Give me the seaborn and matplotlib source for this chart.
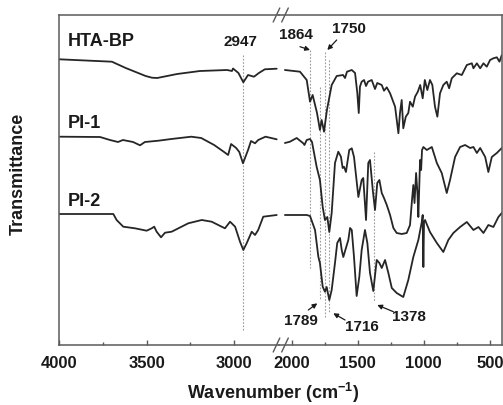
import matplotlib
matplotlib.use("Agg")
import matplotlib.pyplot as plt
import seaborn as sns
import pandas as pd
from matplotlib.lines import Line2D

sns.set_theme(style="white")
plt.rcParams["font.family"] = ["Liberation Sans", "DejaVu Sans"]
plt.rcParams["font.weight"] = "bold"
plt.rcParams["mathtext.fontset"] = "custom"
plt.rcParams["mathtext.rm"] = "Liberation Sans:bold"
plt.rcParams["mathtext.bf"] = "Liberation Sans:bold"
plt.rcParams["mathtext.default"] = "bf"

# ---------------- data (wavenumber cm-1, transmittance arbitrary units) ----------------
hta_wn = [4000, 3699, 3620, 3506, 3470, 3440, 3326, 3195, 3040, 3012, 3006, 2975, 2960, 2947, 2920, 2886, 2858, 2824, 2756,
          2051, 1937, 1886, 1861, 1841, 1808, 1786, 1773, 1755, 1733, 1697, 1659, 1611, 1596, 1581, 1545, 1520, 1503, 1492,
          1483, 1470, 1452, 1437, 1422, 1394, 1369, 1352, 1318, 1301, 1280, 1255, 1217, 1192, 1180, 1167, 1155, 1136, 1117,
          1104, 1083, 1066, 1045, 1027, 1008, 992, 973, 953, 935, 915, 897, 877, 852, 826, 808, 788, 750, 712, 674, 636, 624,
          598, 573, 548, 523, 498, 473, 447, 427, 409]
hta_t = [285.7, 283.3, 277, 269, 267.3, 267, 271, 274, 275, 274, 276.5, 272, 267, 262.7, 270, 268.3, 272, 275.7, 276.3,
         275, 273.3, 265, 243.3, 250, 232, 215, 225, 213.3, 235, 260, 269, 270, 267, 273.3, 275, 272, 252, 232,
         258.3, 263.3, 265, 259, 263.3, 265, 256, 262, 260, 254.3, 257.7, 251.7, 238.3, 211.7, 232, 245, 216.7, 228.3, 232,
         243.3, 238.3, 248.3, 253.3, 260, 246.7, 265, 255, 265, 260, 238.3, 228.3, 251.7, 260, 263.3, 256.7, 266.7, 271.7, 270, 280, 281.7, 276.7,
         281.7, 276.7, 281.7, 278.3, 285, 286.7, 287.7, 283.3, 290]

pi1_wn = [3996, 3767, 3710, 3664, 3636, 3578, 3538, 3510, 3433, 3359, 3245, 3188, 3114, 3057, 3034, 3017, 2988, 2970, 2949,
          2920, 2903, 2880, 2862, 2820, 2756,
          2051, 2013, 1962, 1912, 1903, 1886, 1861, 1846, 1811, 1786, 1765, 1748, 1730, 1715, 1697, 1672, 1647, 1627, 1614,
          1604, 1589, 1564, 1545, 1528, 1495, 1470, 1458, 1437, 1420, 1407, 1386, 1369, 1352, 1336, 1318, 1301, 1280, 1255,
          1230, 1205, 1167, 1129, 1104, 1089, 1079, 1070, 1058, 1047, 1041, 1028, 1020, 1013, 1003, 977, 939, 901, 864, 826,
          801, 763, 725, 687, 649, 624, 598, 573, 535, 511, 485, 447, 409]
pi1_t = [208.3, 208, 205, 203, 205, 203, 199.7, 203, 204.3, 206, 208.3, 207, 200, 193, 190, 201, 197, 193, 181.7,
         195, 204, 201.7, 205, 208.3, 205.7,
         202, 203.3, 207, 201.7, 200, 205, 206, 203, 178.3, 165, 138, 125, 128, 113, 132, 182, 193.3, 188.3, 177,
         178.3, 173, 195, 196.7, 188, 148, 165, 167, 125, 182, 185, 155, 135, 162, 165, 152, 147, 140, 130,
         117, 112, 111, 112, 120, 145, 160, 142, 172, 150, 128, 185, 175, 195, 198, 195, 198, 182, 172, 152,
         165, 188, 198, 200, 197, 198, 192, 197, 188, 173, 188, 192, 197]

pi2_wn = [4000, 3691, 3672, 3634, 3567, 3500, 3471, 3457, 3443, 3418, 3395, 3357, 3262, 3185, 3128, 3071, 3052, 3023, 2994,
          2966, 2947, 2928, 2899, 2880, 2862, 2833, 2756,
          2051, 1937, 1886, 1861, 1823, 1798, 1786, 1765, 1748, 1735, 1715, 1697, 1672, 1655, 1634, 1621, 1609, 1589, 1571,
          1558, 1545, 1528, 1508, 1488, 1470, 1445, 1427, 1407, 1382, 1356, 1336, 1318, 1293, 1268, 1242, 1205, 1155, 1117,
          1079, 1041, 1015, 1008, 1003, 998, 990, 953, 901, 852, 814, 776, 725, 674, 624, 586, 548, 511, 473, 435, 409]
pi2_t = [131, 131, 125, 118.3, 116.7, 114.3, 116.7, 118.3, 113.3, 107.7, 112.3, 113.3, 121.7, 125, 123.3, 118.3, 116.7, 123.3, 118.3,
         103.3, 95, 101.7, 113.3, 110, 115, 128.3, 130,
         130, 130, 130, 129, 115, 88.3, 82, 58.3, 53.3, 58, 45, 55, 82, 102, 107, 95, 88, 97, 105,
         117, 115, 88, 49, 68, 95, 115, 102, 72, 54, 85, 82, 77, 85, 72, 57, 52, 48, 65,
         88, 105, 123, 130, 78, 123, 125, 113, 102, 93, 105, 112, 118, 123, 115, 118, 112, 120, 118, 128, 132]

samples = ["HTA-BP", "PI-1", "PI-2"]
label_t = [303.3, 222, 143.3]

x_ticks_left = [4000, 3500, 3000]
x_ticks_right = [2000, 1500, 1000, 500]

frames = []
for name, wn, t in zip(samples, [hta_wn, pi1_wn, pi2_wn], [hta_t, pi1_t, pi2_t]):
    frames.append(pd.DataFrame({"sample": name, "wn": wn, "T": t}))
df = pd.concat(frames, ignore_index=True)
left_df = df[df["wn"] > 2400]
right_df = df[df["wn"] < 2400]

W, H = 503, 405
fig = plt.figure(figsize=(W / 100, H / 100), dpi=100)
ax1 = fig.add_axes([59.3 / W, 60 / H, 220.2 / W, 330 / H])
ax2 = fig.add_axes([279.5 / W, 60 / H, 222.2 / W, 330 / H])

line_col = "#262626"
spine_col = "#5a5a5a"
txt_col = "#1a1a1a"
for ax, sub in [(ax1, left_df), (ax2, right_df)]:
    sns.lineplot(data=sub, x="wn", y="T", hue="sample", units="sample", estimator=None, sort=False,
                 palette=[line_col] * 3, legend=False, linewidth=1.3, ax=ax)
    ax.set_ylim(0, 330)
    ax.set_yticks([])
    ax.set_xlabel("")
    ax.set_ylabel("")
    for s in ax.spines.values():
        s.set_color(spine_col)
        s.set_linewidth(1.1)
    ax.tick_params(axis="x", which="major", direction="in", length=3.5, width=1, color=spine_col,
                   labelsize=12, pad=8, labelcolor=txt_col, bottom=True, top=False)
    ax.tick_params(axis="x", which="minor", direction="in", length=2.5, width=1, color=spine_col,
                   bottom=True, top=False)
    ax.set_facecolor("none")

ax1.set_xlim(4000, 2740)
ax2.set_xlim(2092, 410)
ax1.spines["right"].set_visible(False)
ax2.spines["left"].set_visible(False)
ax1.set_xticks(x_ticks_left)
ax1.set_xticks([3750, 3250], minor=True)
ax2.set_xticks(x_ticks_right)
ax2.set_xticks([1750, 1250, 750], minor=True)
for ax in (ax1, ax2):
    for lab in ax.get_xticklabels():
        lab.set_fontweight("bold")

# dotted marker lines
dot = dict(color="#9a9a9a", lw=0.8, linestyle=(0, (1.5, 1.5)), zorder=1)
ax1.plot([2947, 2947], [290, 15], **dot)
ax2.plot([1864, 1864], [295, 77], **dot)
ax2.plot([1750, 1750], [293, 27], **dot)
ax2.plot([1789, 1789], [258, 45], **dot)
ax2.plot([1716, 1716], [285, 32], **dot)
ax2.plot([1378, 1378], [193, 43], **dot)

# sample names
for name, ty in zip(samples, label_t):
    ax1.text(3953, ty, name, fontsize=13, fontweight="bold", ha="left", va="center", color=txt_col)

# peak labels
ax1.text(2962, 303.3, "2947", fontsize=11, fontweight="bold", ha="center", va="center", color=txt_col)
arrow = dict(arrowstyle="-|>", color=txt_col, lw=0.9, mutation_scale=7, shrinkA=0, shrinkB=0)
ax2.text(1967, 310, "1864", fontsize=11, fontweight="bold", ha="center", va="center", color=txt_col)
ax2.annotate("", xy=(1861, 295), xytext=(1937, 298.3), arrowprops=arrow)
ax2.text(1566, 315.7, "1750", fontsize=11, fontweight="bold", ha="center", va="center", color=txt_col)
ax2.annotate("", xy=(1730, 295), xytext=(1659, 305), arrowprops=arrow)
ax2.text(1930, 24.3, "1789", fontsize=11, fontweight="bold", ha="center", va="center", color=txt_col)
ax2.annotate("", xy=(1806, 41.7), xytext=(1874, 35), arrowprops=arrow)
ax2.text(1467, 17.7, "1716", fontsize=11, fontweight="bold", ha="center", va="center", color=txt_col)
ax2.annotate("", xy=(1685, 31.7), xytext=(1596, 25), arrowprops=arrow)
ax2.text(1111, 27.7, "1378", fontsize=11, fontweight="bold", ha="center", va="center", color=txt_col)
ax2.annotate("", xy=(1352, 40), xytext=(1230, 33.3), arrowprops=arrow)

# axis break marks
for xc in (276.5, 285):
    for yc in (15, 345):
        fig.add_artist(Line2D([(xc - 3.3) / W, (xc + 3.3) / W], [1 - (yc + 7) / H, 1 - (yc - 7) / H],
                              transform=fig.transFigure, color=spine_col, lw=1.0))

fig.text(273 / W, 1 - 393 / H, "Wavenumber (cm$^{-1}$)", fontsize=13, fontweight="bold",
         ha="center", va="center", color=txt_col)
fig.text(18.5 / W, 1 - 174 / H, "Transmittance", fontsize=13, fontweight="bold", rotation=90,
         ha="center", va="center", color=txt_col)

fig.savefig("out.png", dpi=100)
